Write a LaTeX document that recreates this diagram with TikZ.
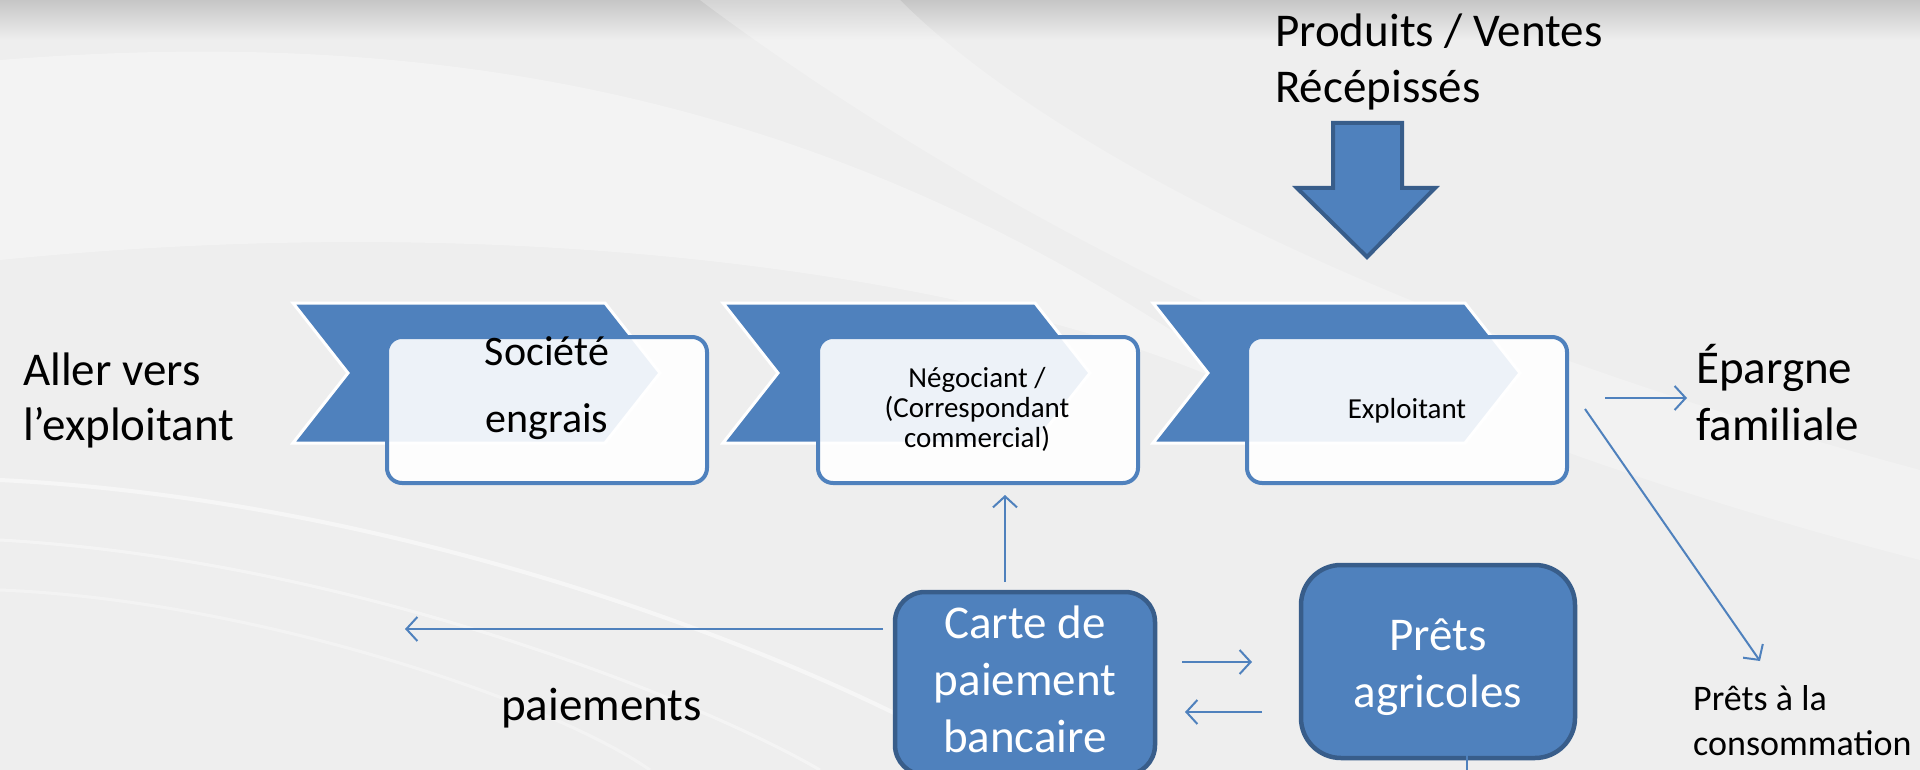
\documentclass[tikz,border=0pt]{standalone}
\usepackage{fontspec}
\setmainfont{Carlito}
\usetikzlibrary{arrows.meta}
\definecolor{ofblue}{HTML}{4F81BD}
\definecolor{ofdark}{HTML}{385D8A}
\definecolor{bgc}{HTML}{EEEEEE}
\definecolor{topgray}{HTML}{C6C6C6}
\begin{document}
\begin{tikzpicture}[x=1pt,y=-1pt,
  chev/.style={fill=ofblue, draw=white, line width=3, line join=miter},
  stagebox/.style={draw=ofblue, line width=4, fill=white, fill opacity=0.9, rounded corners=15, minimum width=320, minimum height=146, inner sep=0},
  bluebox/.style={draw=ofdark, line width=4.5, fill=ofblue, inner sep=0},
  txt/.style={inner sep=0, text=black},
  big/.style={font=\fontsize{47}{56}\selectfont},
  conn/.style={draw=ofblue, line width=2, -{Straight Barb[length=11, width=24, line width=2]}},
]
\useasboundingbox (0,0) rectangle (1920,770);
% background
\fill[bgc] (0,0) rectangle (1920,770);
\shade[top color=topgray, bottom color=bgc] (0,0) rectangle (1920,40);
\fill[white, opacity=0.3] (0,60) .. controls (500,20) and (900,120) .. (1300,420) .. controls (1100,300) and (600,200) .. (0,260) -- cycle;
\fill[white, opacity=0.25] (700,0) .. controls (900,150) and (1300,400) .. (1920,560) -- (1920,470) .. controls (1400,330) and (1050,150) .. (900,0) -- cycle;
\draw[white, opacity=0.5, line width=4] (0,480) .. controls (400,500) and (800,650) .. (1000,770);
\draw[white, opacity=0.4, line width=3] (0,540) .. controls (350,560) and (700,700) .. (820,770);
\draw[white, opacity=0.35, line width=3] (0,590) .. controls (250,600) and (550,700) .. (650,770);

% chevrons
\foreach \L in {293,723,1153}{
  \draw[chev] (\L,303) -- (\L+312,303) -- (\L+367,373) -- (\L+312,443) -- (\L,443) -- (\L+55,373) -- cycle;
}
% stage boxes
\node[stagebox] (b1) at (547,410) {};
\node[stagebox] (b2) at (978,410) {};
\node[stagebox] (b3) at (1407,410) {};
\node[txt, anchor=base, font=\fontsize{42}{67}\selectfont] (t1) at (547,365)
  {\begin{tabular}[t]{@{}c@{}}Société\\engrais\end{tabular}};
\node[txt, anchor=base, font=\fontsize{29}{30}\selectfont] (t2) at (977,387)
  {\begin{tabular}[t]{@{}c@{}}Négociant /\\(Correspondant\\commercial)\end{tabular}};
\node[txt, anchor=base, font=\fontsize{29}{34}\selectfont] (t3) at (1407,418) {Exploitant};

% big down arrow
\draw[fill=ofblue, draw=ofdark, line width=4, line join=miter] (1333,123) -- (1402,123) -- (1402,188) -- (1435,188) -- (1367,257) -- (1297,188) -- (1333,188) -- cycle;

% side texts
\node[txt, big, anchor=base west] (prod) at (1275,47)
  {\begin{tabular}[t]{@{}l@{}}Produits / Ventes\\Récépissés\end{tabular}};
\node[txt, anchor=base west, font=\fontsize{47}{55}\selectfont] (aller) at (23,385)
  {\begin{tabular}[t]{@{}l@{}}Aller vers\\l’exploitant\end{tabular}};
\node[txt, anchor=base west, font=\fontsize{47}{57}\selectfont] (epar) at (1696,383)
  {\begin{tabular}[t]{@{}l@{}}Épargne\\familiale\end{tabular}};
\node[txt, anchor=base west, font=\fontsize{36}{45}\selectfont] (conso) at (1693,710)
  {\begin{tabular}[t]{@{}l@{}}Prêts à la\\consommation\end{tabular}};
\node[txt, big, anchor=base west] (paie) at (501,720) {paiements};

% bottom blue boxes
\node[bluebox, rounded corners=30, minimum width=260, minimum height=183] (carte) at (1025,683.5) {};
\node[txt, anchor=base, text=white, font=\fontsize{47}{57}\selectfont] (tcarte) at (1025,638)
  {\begin{tabular}[t]{@{}c@{}}Carte de\\paiement\\bancaire\end{tabular}};
\node[bluebox, rounded corners=40, minimum width=274, minimum height=193] (prets) at (1438,661.5) {};
\node[txt, anchor=base, text=white, font=\fontsize{47}{57}\selectfont] (tprets) at (1438,650)
  {\begin{tabular}[t]{@{}c@{}}Prêts\\agricoles\end{tabular}};

% connectors
\coordinate (upS) at (1005,582);
\coordinate (upE) at (1005,495);
\draw[conn] (upS) -- (upE);
\coordinate (payS) at (883,629);
\coordinate (payE) at (405,629);
\draw[conn] (payS) -- (payE);
\coordinate (rS) at (1182,662);
\coordinate (rE) at (1252,662);
\draw[conn] (rS) -- (rE);
\coordinate (lS) at (1262,712);
\coordinate (lE) at (1185,712);
\draw[conn] (lS) -- (lE);
\coordinate (eS) at (1605,398);
\coordinate (eE) at (1687,398);
\draw[conn] (eS) -- (eE);
\coordinate (dS) at (1585,409);
\coordinate (dE) at (1760,661);
\draw[conn] (dS) -- (dE);
\coordinate (vS) at (1467,683);
\coordinate (vE) at (1467,770);
\draw[draw=ofblue, line width=2] (vS) -- (vE);
\end{tikzpicture}
\end{document}
